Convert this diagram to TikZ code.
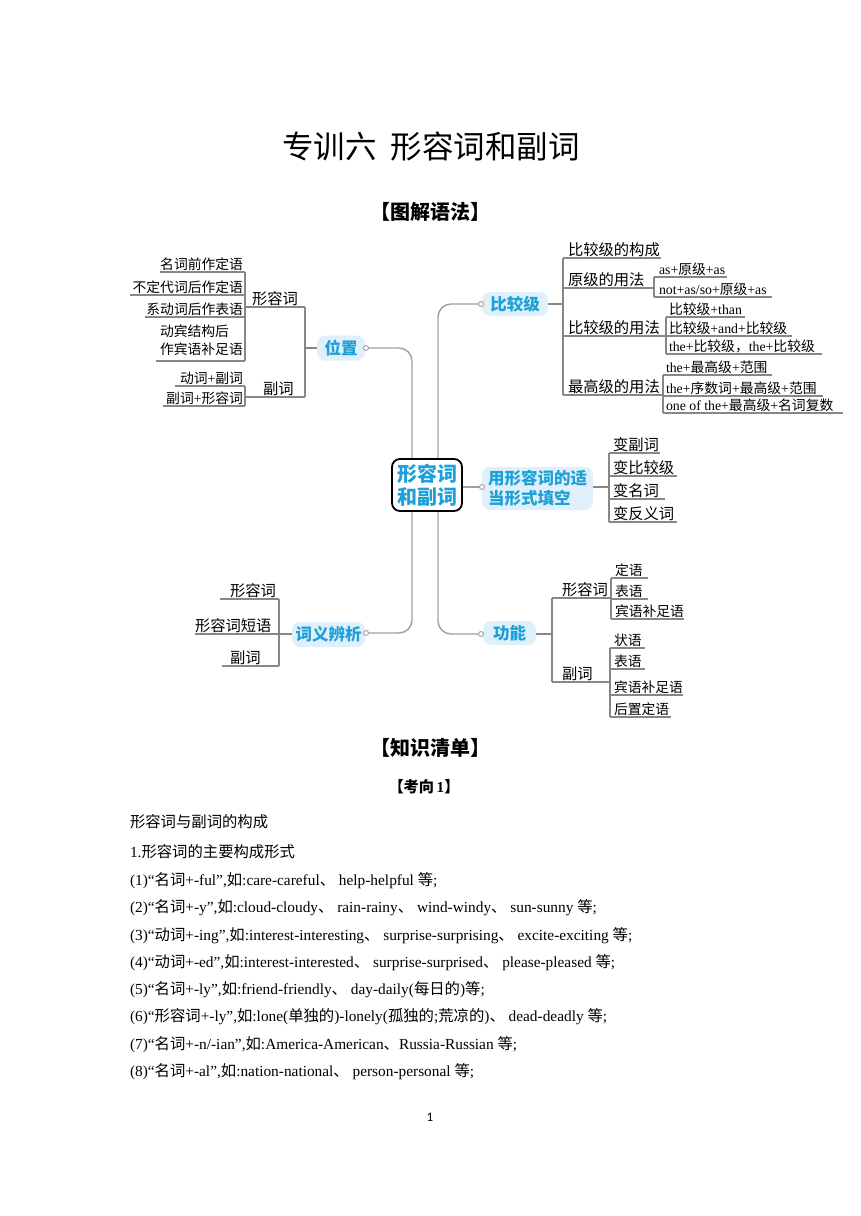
\documentclass[tikz,border=0pt]{standalone}
\usepackage{fontspec}
\setmainfont{Liberation Serif}
\newfontfamily\cjk{Noto Sans CJK SC}
\newfontfamily\pgnum{Carlito}
\newcommand\zh[1]{{\cjk #1}}
\definecolor{mmcyan}{RGB}{27,160,215}
\definecolor{pillbg}{RGB}{224,240,250}
\definecolor{mmgray}{RGB}{160,160,160}
\definecolor{ulgray}{RGB}{135,135,135}
\pgfdeclarelayer{paper}
\pgfdeclarelayer{background}
\pgfsetlayers{paper,background,main}
\tikzset{
 every node/.style={inner sep=0pt, outer sep=0pt},
 mainline/.style={draw=mmgray, line width=1.4pt, rounded corners=13pt},
 subline/.style={draw=ulgray, line width=1.1pt},
 pill/.style={fill=pillbg, rounded corners=8pt, text=mmcyan, font=\cjk\bfseries\fontsize{16.5}{20}\selectfont, align=left},
 knob/.style={circle, draw=mmgray, fill=white, line width=0.9pt, minimum size=5pt},
 lvl1/.style={font=\cjk\fontsize{15.3}{18}\selectfont},
 lvl2/.style={font=\fontsize{13.8}{16}\selectfont},
 body/.style={font=\fontsize{15.35}{18}\selectfont, anchor=base west},
 head/.style={font=\cjk\bfseries\fontsize{20}{24}\selectfont},
}
\newcommand\ulW[7]{\node[#2, anchor=base west] (#1) at (#3, #4-3) {#7};
 \draw[subline] (#5,#4) -- (#6,#4);}
\newcommand\ulE[7]{\node[#2, anchor=base east] (#1) at (#3, #4-3) {#7};
 \draw[subline] (#5,#4) -- (#6,#4);}
\begin{document}
\begin{tikzpicture}[x=1pt,y=-1pt]
\useasboundingbox (0,0) rectangle (860,1216);
\begin{pgfonlayer}{paper}
\fill[white] (0,0) rectangle (860,1216);
\end{pgfonlayer}

% titles
\node[font=\cjk\fontsize{31.5}{36}\selectfont] (title) at (431,147) {专训六\hspace{0.45em}形容词和副词};
\node[head] (h1) at (430,212) {【图解语法】};

% hub and pills
\node[draw=black, line width=1.8pt, rounded corners=8pt, fill=white, minimum width=70pt, minimum height=52pt, text=mmcyan, font=\cjk\bfseries\fontsize{20}{23}\selectfont, align=center] (hub) at (427,485) {形容词\\和副词};
\node[pill, minimum width=48pt, minimum height=25pt] (p1) at (341,348) {位置};
\node[pill, minimum width=66pt, minimum height=24pt] (p2) at (515,304) {比较级};
\node[pill, minimum width=111pt, minimum height=43pt] (p3) at (537.5,488.5) {用形容词的适\\当形式填空};
\node[pill, minimum width=73pt, minimum height=25pt] (p4) at (328.5,634.5) {词义辨析};
\node[pill, minimum width=53pt, minimum height=24pt] (p5) at (509.5,633) {功能};
\node[knob] (k1) at (366,348) {};
\node[knob] (k2) at (481,304) {};
\node[knob] (k3) at (482,487) {};
\node[knob] (k4) at (366,633) {};
\node[knob] (k5) at (481,634) {};
\coordinate (L) at (412,0);
\coordinate (R) at (438,0);
\begin{pgfonlayer}{background}
\draw[mainline] (k1.east) -| (L |- hub.center) |- (k4.east);
\draw[mainline] (k2.west) -| (R |- hub.center) |- (k5.west);
\draw[mainline] (hub.east |- k3) -- (k3.west);
\end{pgfonlayer}

% ---- 位置
\coordinate (v1) at (305,348);
\draw[subline] (p1.west) -- (v1);
\draw[subline] (305,307) -- (305,397);
\ulW{xr}{lvl1}{252}{307}{245}{305}{形容词}
\ulW{fc}{lvl1}{263}{397}{245}{305}{副词}
\draw[subline] (245,272) -- (245,361);
\ulE{a1}{lvl2}{243}{272}{160}{245}{\zh{名词前作定语}}
\ulE{a2}{lvl2}{243}{295}{130}{245}{\zh{不定代词后作定语}}
\ulE{a3}{lvl2}{243}{317}{145}{245}{\zh{系动词后作表语}}
\node[lvl2, anchor=base west] (a4) at (160,336) {\zh{动宾结构后}};
\node[lvl2, anchor=base west] (a4b) at (160,354) {\zh{作宾语补足语}};
\draw[subline] (156,361) -- (245,361);
\draw[subline] (245,386) -- (245,406);
\ulE{b1}{lvl2}{243}{386}{175}{245}{\zh{动词}+\zh{副词}}
\ulE{b2}{lvl2}{243}{406}{163}{245}{\zh{副词}+\zh{形容词}}

% ---- 比较级
\coordinate (v2) at (563,304);
\draw[subline] (p2.east) -- (v2);
\draw[subline] (563,258) -- (563,395);
\ulW{c1}{lvl1}{568}{258}{563}{661}{比较级的构成}
\ulW{c2}{lvl1}{568}{288}{563}{654}{原级的用法}
\draw[subline] (654,277) -- (654,297);
\ulW{c21}{lvl2}{659}{277}{654}{727}{as+\zh{原级}+as}
\ulW{c22}{lvl2}{659}{297}{654}{772}{not+as/so+\zh{原级}+as}
\ulW{c3}{lvl1}{568}{336}{563}{666}{比较级的用法}
\draw[subline] (666,317) -- (666,354);
\ulW{c31}{lvl2}{669}{317}{666}{745}{\zh{比较级}+than}
\ulW{c32}{lvl2}{669}{336}{666}{792}{\zh{比较级}+and+\zh{比较级}}
\ulW{c33}{lvl2}{669}{354}{666}{822}{the+\zh{比较级，}the+\zh{比较级}}
\ulW{c4}{lvl1}{568}{395}{563}{663}{最高级的用法}
\draw[subline] (663,375) -- (663,413);
\ulW{c41}{lvl2}{666}{375}{663}{772}{the+\zh{最高级}+\zh{范围}}
\ulW{c42}{lvl2}{666}{396}{663}{823}{the+\zh{序数词}+\zh{最高级}+\zh{范围}}
\ulW{c43}{lvl2}{666}{413}{663}{843}{one of the+\zh{最高级}+\zh{名词复数}}

% ---- 用形容词的适当形式填空
\coordinate (v3) at (609,487);
\draw[subline] (p3.east |- v3) -- (v3);
\draw[subline] (609,453) -- (609,522);
\ulW{d1}{lvl1}{613}{453}{609}{660}{变副词}
\ulW{d2}{lvl1}{613}{476}{609}{677}{变比较级}
\ulW{d3}{lvl1}{613}{499}{609}{665}{变名词}
\ulW{d4}{lvl1}{613}{522}{609}{677}{变反义词}

% ---- 词义辨析
\draw[subline] (279,599) -- (279,666);
\ulW{e1}{lvl1}{230}{599}{220}{279}{形容词}
\node[lvl1, anchor=base west] (e2) at (195,631) {形容词短语};
\draw[subline] (195,634) -- (p4.west |- 0,634);
\ulW{e3}{lvl1}{230}{666}{222}{279}{副词}

% ---- 功能
\coordinate (v5) at (552,634);
\draw[subline] (p5.east |- v5) -- (v5);
\draw[subline] (552,598) -- (552,682);
\ulW{f1}{lvl1}{562}{598}{552}{611}{形容词}
\draw[subline] (611,578) -- (611,619);
\ulW{f11}{lvl2}{615}{578}{611}{648}{\zh{定语}}
\ulW{f12}{lvl2}{615}{599}{611}{648}{\zh{表语}}
\ulW{f13}{lvl2}{615}{619}{611}{684}{\zh{宾语补足语}}
\ulW{f2}{lvl1}{562}{682}{552}{610}{副词}
\draw[subline] (610,648) -- (610,717);
\ulW{f21}{lvl2}{614}{648}{610}{645}{\zh{状语}}
\ulW{f22}{lvl2}{614}{669}{610}{645}{\zh{表语}}
\ulW{f23}{lvl2}{614}{695}{610}{683}{\zh{宾语补足语}}
\ulW{f24}{lvl2}{614}{717}{610}{671}{\zh{后置定语}}

% ---- knowledge list
\node[head] (h2) at (430,748) {【知识清单】};
\node[font=\bfseries\fontsize{15.2}{18}\selectfont] (h3) at (424,787) {\zh{【考向}\,1\zh{】}};
\node[body] (t1) at (130,827.5) {\zh{形容词与副词的构成}};
\node[body] (t2) at (130,857.5) {1.\zh{形容词的主要构成形式}};
\node[body] (t3) at (130,885.5) {(1)“\zh{名词}+-ful”,\zh{如}:care-careful\zh{、} help-helpful \zh{等};};
\node[body] (t4) at (130,912.5) {(2)“\zh{名词}+-y”,\zh{如}:cloud-cloudy\zh{、} rain-rainy\zh{、} wind-windy\zh{、} sun-sunny \zh{等};};
\node[body] (t5) at (130,940.5) {(3)“\zh{动词}+-ing”,\zh{如}:interest-interesting\zh{、} surprise-surprising\zh{、} excite-exciting \zh{等};};
\node[body] (t6) at (130,967.5) {(4)“\zh{动词}+-ed”,\zh{如}:interest-interested\zh{、} surprise-surprised\zh{、} please-pleased \zh{等};};
\node[body] (t7) at (130,994.5) {(5)“\zh{名词}+-ly”,\zh{如}:friend-friendly\zh{、} day-daily(\zh{每日的})\zh{等};};
\node[body] (t8) at (130,1021.5) {(6)“\zh{形容词}+-ly”,\zh{如}:lone(\zh{单独的})-lonely(\zh{孤独的};\zh{荒凉的})\zh{、} dead-deadly \zh{等};};
\node[body] (t9) at (130,1049.5) {(7)“\zh{名词}+-n/-ian”,\zh{如}:America-American\zh{、}Russia-Russian \zh{等};};
\node[body] (t10) at (130,1076.5) {(8)“\zh{名词}+-al”,\zh{如}:nation-national\zh{、} person-personal \zh{等};};
\node[font=\pgnum\fontsize{13}{15}\selectfont] (pg) at (430,1117) {1};
\end{tikzpicture}
\end{document}
